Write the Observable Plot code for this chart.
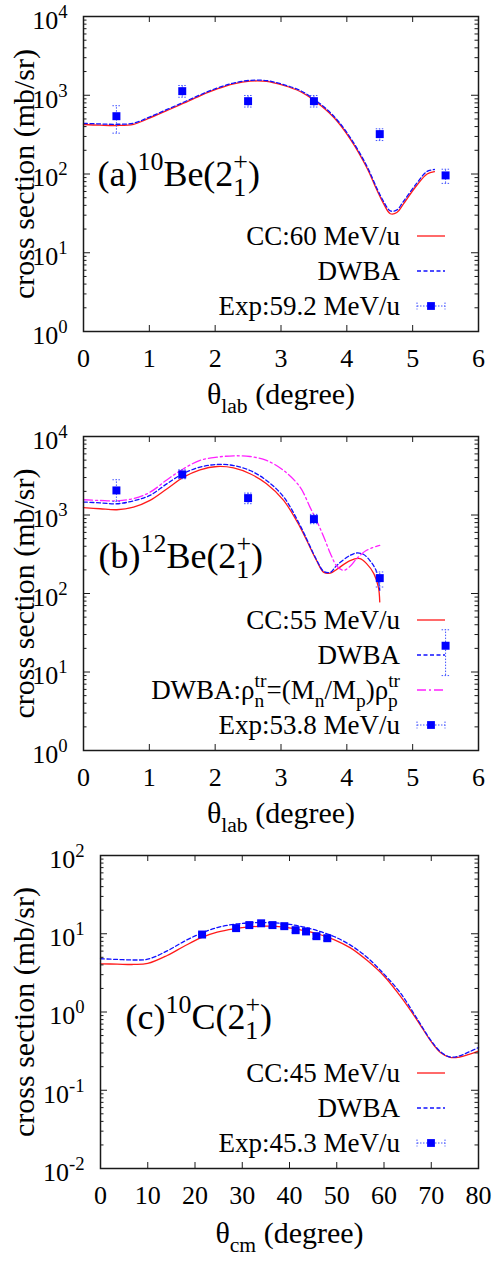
<!DOCTYPE html>
<html><head><meta charset="utf-8">
<script src="https://cdn.jsdelivr.net/npm/d3@7"></script>
<script src="https://cdn.jsdelivr.net/npm/@observablehq/plot@0.6"></script>
<style>
html,body{margin:0;padding:0;background:#fff;}
#root{width:495px;}
#root svg{display:block;background:#fff;}
#root svg, #root svg text, #root svg tspan{font-family:"Liberation Serif","DejaVu Serif","Times New Roman",Times,serif !important;}
</style></head><body><div id="root"></div>
<script>
// ---------- Panel (a): 10Be(2+1) ----------
const thetaA = [0, 0.25, 0.5, 0.76, 1.01, 1.27, 1.52, 1.77, 2.03, 2.28, 2.53, 2.78, 3.04, 3.29, 3.54, 3.80, 4.05, 4.30, 4.46, 4.56, 4.66, 4.76, 4.86, 5.06, 5.22, 5.33];
const ccA   = [425, 417, 413, 427, 516, 640, 794, 984, 1202, 1396, 1507, 1496, 1330, 1117, 817, 525, 280, 122, 61.7, 41.7, 31.3, 32.4, 41.7, 71.4, 100, 107];
const dwbaA = [440, 432, 428, 442, 532, 660, 815, 1010, 1235, 1430, 1545, 1535, 1365, 1150, 845, 545, 292, 128, 65, 44.5, 34, 35, 45, 76, 108, 114];
const expThetaA = [0.5, 1.5, 2.5, 3.5, 4.5, 5.5];
const expA   = [542, 1127, 841, 841, 321, 96];
const expLoA = [330, 944, 708, 708, 266, 76];
const expHiA = [736, 1330, 993, 993, 375, 115];

// ---------- Panel (b): 12Be(2+1) ----------
const thetaBcc = [0, 0.25, 0.506, 0.76, 1.01, 1.27, 1.52, 1.77, 2.03, 2.28, 2.53, 2.78, 3.04, 3.29, 3.44, 3.54, 3.65, 3.75, 3.85, 4.05, 4.20, 4.30, 4.41, 4.48, 4.5];
const ccB      = [1239, 1202, 1167, 1259, 1535, 2163, 3034, 3767, 4150, 3981, 3350, 2500, 1535, 701, 389, 263, 186, 182, 204, 263, 278, 240, 179, 120, 78];
const thetaBdw = [0, 0.25, 0.506, 0.76, 1.01, 1.27, 1.52, 1.77, 2.03, 2.28, 2.53, 2.78, 3.04, 3.29, 3.54, 3.65, 3.75, 3.85, 4.05, 4.15, 4.25, 4.35, 4.45, 4.5];
const dwbaB    = [1462, 1429, 1390, 1514, 1778, 2512, 3388, 4074, 4406, 4266, 3690, 2754, 1698, 738, 269, 191, 186, 229, 306, 328, 316, 263, 191, 110];
const thetaBmg = [0, 0.25, 0.506, 0.76, 1.01, 1.27, 1.52, 1.77, 2.03, 2.28, 2.53, 2.78, 3.04, 3.29, 3.44, 3.54, 3.65, 3.75, 3.85, 3.95, 4.05, 4.15, 4.30, 4.5];
const dwbaRhoB = [1563, 1531, 1514, 1622, 1950, 2818, 3890, 4955, 5458, 5675, 5559, 4955, 3690, 2265, 1259, 851, 525, 324, 222, 197, 222, 278, 355, 410];
const expThetaB = [0.5, 1.5, 2.5, 3.5, 4.5, 5.5];
const expB   = [2056, 3289, 1641, 887, 157, 21.6];
const expLoB = [1489, 2897, 1393, 775, 121, 9];
const expHiB = [2812, 3767, 1901, 1018, 188, 34.5];

// ---------- Panel (c): 10C(2+1) ----------
const thetaC = [0, 3.5, 7.05, 10, 14.1, 17.6, 21.2, 24.7, 28.2, 31.7, 35.3, 38.8, 42.3, 45.9, 49.4, 52.9, 56.4, 60, 63.5, 67, 70, 72, 74, 76, 78, 80];
const ccC   = [4.13, 4.09, 4.05, 4.17, 5.27, 6.87, 8.87, 10.47, 11.56, 12.27, 12.5, 12.16, 11.22, 10.0, 8.43, 6.6, 4.57, 2.88, 1.58, 0.79, 0.417, 0.302, 0.263, 0.266, 0.288, 0.316];
const dwbaC = [4.79, 4.70, 4.62, 4.73, 6.03, 7.94, 10.1, 12.0, 13.2, 13.8, 13.87, 13.5, 12.45, 10.96, 9.23, 7.16, 5.01, 3.05, 1.74, 0.822, 0.427, 0.309, 0.266, 0.275, 0.309, 0.351];
const expThetaC = [21.5, 28.7, 31.5, 34.0, 36.4, 38.9, 41.3, 43.5, 45.7, 48.0];
const expC   = [9.77, 11.8, 12.9, 13.6, 12.9, 12.5, 11.1, 10.7, 9.31, 8.77];
const expLoC = [9.1, 11.0, 12.1, 12.7, 12.1, 11.7, 10.4, 10.0, 8.7, 8.2];
const expHiC = [10.4, 12.6, 13.7, 14.5, 13.7, 13.3, 11.8, 11.4, 9.9, 9.3];

// ---------- ticks & labels ----------
const xTicksLab = [0, 1, 2, 3, 4, 5, 6];
const xTickLabelsLab = ["0", "1", "2", "3", "4", "5", "6"];
const xTicksCm = [0, 10, 20, 30, 40, 50, 60, 70, 80];
const xTickLabelsCm = ["0", "10", "20", "30", "40", "50", "60", "70", "80"];
const yMajorAB = [1, 10, 100, 1000, 10000];
const yTickLabelsAB = ["10^{0}", "10^{1}", "10^{2}", "10^{3}", "10^{4}"];
const yMinorAB = [2,3,4,5,6,7,8,9,20,30,40,50,60,70,80,90,200,300,400,500,600,700,800,900,2000,3000,4000,5000,6000,7000,8000,9000];
const yMajorC = [0.01, 0.1, 1, 10, 100];
const yTickLabelsC = ["10^{-2}", "10^{-1}", "10^{0}", "10^{1}", "10^{2}"];
const yMinorC = [0.02,0.03,0.04,0.05,0.06,0.07,0.08,0.09,0.2,0.3,0.4,0.5,0.6,0.7,0.8,0.9,2,3,4,5,6,7,8,9,20,30,40,50,60,70,80,90];

const yTitle = "cross section (mb/sr)";
const FONT = "Liberation Serif, DejaVu Serif, serif";
const INK = "#1a1a1a";
const RED = "#ff1a1a", BLUE = "#1010ff", MAG = "#ff20ff", SQ = "#0000ff", ERR = "#4455ff";
const NS = "http://www.w3.org/2000/svg";

const capSymbol = {draw(ctx, size) { const w = Math.sqrt(size / Math.PI); ctx.moveTo(-w, 0); ctx.lineTo(w, 0); }};

function rich(el, {sup = 0.42, sub = 0.3, scale = 0.72} = {}) {
  const s = el.textContent;
  if (!/[\^_@]\{/.test(s)) return;
  const fs = parseFloat(getComputedStyle(el).fontSize);
  while (el.firstChild) el.removeChild(el.firstChild);
  let shift = 0, i = 0, buf = "", pendingDx = 0;
  const add = (str, level, small, dx) => {
    const t = document.createElementNS(NS, "tspan");
    const d = level - shift;
    if (Math.abs(d) > 1e-6) t.setAttribute("dy", d.toFixed(2));
    shift = level;
    if (small) t.setAttribute("font-size", (fs * scale).toFixed(2));
    if (dx) t.setAttribute("dx", dx.toFixed(2));
    t.textContent = str;
    el.appendChild(t);
    return t;
  };
  const flush = () => { if (buf) { add(buf, 0, false, pendingDx); pendingDx = 0; buf = ""; } };
  const group = () => { const j = s.indexOf("}", i); const g = s.slice(i + 1, j); i = j + 1; return g; };
  while (i < s.length) {
    const c = s[i];
    if ((c === "^" || c === "_" || c === "@") && s[i + 1] === "{") {
      flush(); i++;
      if (c === "^") { add(group(), -fs * sup, true, pendingDx); pendingDx = 0; }
      else if (c === "_") { add(group(), fs * sub, true, pendingDx); pendingDx = 0; }
      else {
        const a = group(), b = group();
        const ta = add(a, -fs * sup, true, pendingDx); pendingDx = 0;
        const wa = ta.getComputedTextLength();
        const tb = add(b, fs * sub, true, -wa);
        const wb = tb.getComputedTextLength();
        pendingDx = Math.max(0, wa - wb);
      }
    } else { buf += c; i++; }
  }
  flush();
}

function makePanel(cfg) {
  const width = 495;
  const {height, mL, mR, mT, mB} = cfg;
  const fw = width - mL - mR, fh = height - mT - mB;
  const expData = cfg.exp.t.map((t, i) => ({t, v: cfg.exp.v[i], lo: cfg.exp.lo[i], hi: cfg.exp.hi[i]}));
  const marks = [];
  for (const s of cfg.series) {
    marks.push(Plot.line(s.t.map((t, i) => ({t, v: s.v[i]})), {
      x: "t", y: "v", stroke: s.color, strokeWidth: 1.3, strokeDasharray: s.dash, curve: "catmull-rom"
    }));
  }
  marks.push(
    Plot.ruleX(expData, {x: "t", y1: "lo", y2: "hi", stroke: ERR, strokeWidth: 1, strokeDasharray: "1.5,1.5"}),
    Plot.dot(expData, {x: "t", y: "lo", symbol: capSymbol, r: 4, stroke: ERR, strokeWidth: 1, strokeDasharray: "1.5,1.5"}),
    Plot.dot(expData, {x: "t", y: "hi", symbol: capSymbol, r: 4, stroke: ERR, strokeWidth: 1, strokeDasharray: "1.5,1.5"}),
    Plot.dot(expData, {x: "t", y: "v", symbol: "square", r: 4.5, fill: SQ, stroke: null}),
    Plot.frame({stroke: INK, strokeWidth: 1.5}),
    Plot.tickX(cfg.xTicks, {x: d => d, insetTop: fh - 6, stroke: INK}),
    Plot.tickX(cfg.xTicks, {x: d => d, insetBottom: fh - 6, stroke: INK}),
    Plot.tickY(cfg.yMajor, {y: d => d, insetRight: fw - 7, stroke: INK}),
    Plot.tickY(cfg.yMajor, {y: d => d, insetLeft: fw - 7, stroke: INK}),
    Plot.tickY(cfg.yMinor, {y: d => d, insetRight: fw - 3.5, stroke: INK}),
    Plot.tickY(cfg.yMinor, {y: d => d, insetLeft: fw - 3.5, stroke: INK}),
    Plot.axisX({ticks: cfg.xTicks, tickSize: 0, tickPadding: 17, label: null, fontSize: 26, fill: "#000",
      tickFormat: d => cfg.xTickLabels[cfg.xTicks.indexOf(d)]}),
    Plot.axisY({ticks: cfg.yMajor, tickSize: 0, tickPadding: 16, label: null, fontSize: 26, fill: "#000", dy: 4,
      tickFormat: d => cfg.yTickLabels[cfg.yMajor.indexOf(d)]}),
    Plot.text([cfg.xTitle], {frameAnchor: "bottom", dy: cfg.xTitleDy, textAnchor: "middle", lineAnchor: "bottom", fontSize: 30, fill: "#000"}),
    Plot.text([yTitle], {frameAnchor: "left", dx: cfg.yTitleDx, rotate: -90, textAnchor: "middle", lineAnchor: "middle", fontSize: 30, fill: "#000"}),
    Plot.text([cfg.label], {frameAnchor: "top-left", dx: cfg.labelDx, dy: cfg.labelDy, textAnchor: "start", lineAnchor: "bottom", fontSize: 36, fill: "#000"})
  );
  const svg = Plot.plot({
    width, height, marginLeft: mL, marginRight: mR, marginTop: mT, marginBottom: mB,
    style: {background: "#fff", color: "#000"},
    x: {type: "linear", domain: cfg.xDomain},
    y: {type: "log", domain: cfg.yDomain},
    marks
  });
  document.getElementById("root").appendChild(svg);

  // legend (gnuplot-style key, bottom right inside the frame)
  const g = d3.select(svg).append("g").attr("font-family", FONT).attr("font-size", 27);
  const n = cfg.legend.length;
  const xText = width - mR - 78, x1 = width - mR - 61, x2 = width - mR - 33;
  cfg.legend.forEach((r, k) => {
    const y = mT + fh - 25 - (n - 1 - k) * 35;
    g.append("text").attr("x", xText).attr("y", y).attr("dy", "0.32em").attr("text-anchor", "end").attr("fill", "#000").text(r.text);
    if (r.type === "line") {
      g.append("line").attr("x1", x1).attr("x2", x2).attr("y1", y).attr("y2", y)
        .attr("stroke", r.color).attr("stroke-width", 1.3).attr("stroke-dasharray", r.dash || null);
    } else {
      g.append("line").attr("x1", x1).attr("x2", x2).attr("y1", y).attr("y2", y)
        .attr("stroke", ERR).attr("stroke-width", 1).attr("stroke-dasharray", "1.5,1.5");
      for (const xx of [x1, x2]) g.append("line").attr("x1", xx).attr("x2", xx).attr("y1", y - 3.5).attr("y2", y + 3.5)
        .attr("stroke", ERR).attr("stroke-width", 1).attr("stroke-dasharray", "1.5,1.5");
      g.append("rect").attr("x", (x1 + x2) / 2 - 3.9).attr("y", y - 3.9).attr("width", 7.8).attr("height", 7.8).attr("fill", SQ);
    }
  });
  svg.querySelectorAll("text").forEach(t => rich(t));
}

const DASH = "4,2.5", DASHDOT = "9,3,2,3";

makePanel({
  height: 420, mL: 83, mR: 17, mT: 16, mB: 89,
  xDomain: [0, 6], yDomain: [1, 10000],
  xTicks: xTicksLab, xTickLabels: xTickLabelsLab,
  yMajor: yMajorAB, yMinor: yMinorAB, yTickLabels: yTickLabelsAB,
  series: [
    {t: thetaA, v: ccA, color: RED},
    {t: thetaA, v: dwbaA, color: BLUE, dash: DASH}
  ],
  exp: {t: expThetaA, v: expA, lo: expLoA, hi: expHiA},
  xTitle: "θ_{lab} (degree)", xTitleDy: 72, yTitleDx: -59,
  label: "(a)^{10}Be(2@{+}{1})", labelDx: 14, labelDy: 169,
  legend: [
    {type: "line", text: "CC:60 MeV/u", color: RED},
    {type: "line", text: "DWBA", color: BLUE, dash: DASH},
    {type: "exp", text: "Exp:59.2 MeV/u"}
  ]
});

makePanel({
  height: 420, mL: 83, mR: 17, mT: 16, mB: 90,
  xDomain: [0, 6], yDomain: [1, 10000],
  xTicks: xTicksLab, xTickLabels: xTickLabelsLab,
  yMajor: yMajorAB, yMinor: yMinorAB, yTickLabels: yTickLabelsAB,
  series: [
    {t: thetaBcc, v: ccB, color: RED},
    {t: thetaBdw, v: dwbaB, color: BLUE, dash: DASH},
    {t: thetaBmg, v: dwbaRhoB, color: MAG, dash: DASHDOT}
  ],
  exp: {t: expThetaB, v: expB, lo: expLoB, hi: expHiB},
  xTitle: "θ_{lab} (degree)", xTitleDy: 72, yTitleDx: -59,
  label: "(b)^{12}Be(2@{+}{1})", labelDx: 15, labelDy: 131,
  legend: [
    {type: "line", text: "CC:55 MeV/u", color: RED},
    {type: "line", text: "DWBA", color: BLUE, dash: DASH},
    {type: "line", text: "DWBA:ρ@{tr}{n}=(M_{n}/M_{p})ρ@{tr}{p}", color: MAG, dash: DASHDOT},
    {type: "exp", text: "Exp:53.8 MeV/u"}
  ]
});

makePanel({
  height: 421, mL: 100, mR: 17, mT: 15, mB: 93,
  xDomain: [0, 80], yDomain: [0.01, 100],
  xTicks: xTicksCm, xTickLabels: xTickLabelsCm,
  yMajor: yMajorC, yMinor: yMinorC, yTickLabels: yTickLabelsC,
  series: [
    {t: thetaC, v: ccC, color: RED},
    {t: thetaC, v: dwbaC, color: BLUE, dash: DASH}
  ],
  exp: {t: expThetaC, v: expC, lo: expLoC, hi: expHiC},
  xTitle: "θ_{cm} (degree)", xTitleDy: 74, yTitleDx: -76,
  label: "(c)^{10}C(2@{+}{1})", labelDx: 25, labelDy: 173,
  legend: [
    {type: "line", text: "CC:45 MeV/u", color: RED},
    {type: "line", text: "DWBA", color: BLUE, dash: DASH},
    {type: "exp", text: "Exp:45.3 MeV/u"}
  ]
});
</script></body></html>
